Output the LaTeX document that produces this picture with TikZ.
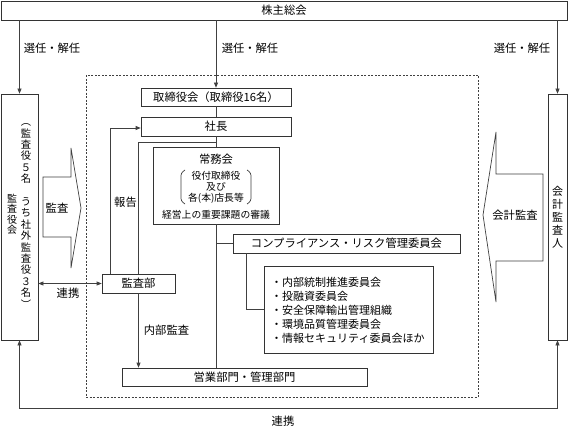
\documentclass[tikz,border=0pt]{standalone}
\usepackage{fontspec}
\setmainfont{Noto Sans CJK JP}
\usetikzlibrary{arrows.meta}
\begin{document}
\begin{tikzpicture}[x=1pt,y=-1pt,
  box/.style={draw=black!80, line width=0.7pt, inner sep=0pt, font=\fontsize{11.3}{13}\selectfont},
  conn/.style={draw=black!75, line width=0.7pt},
  arr/.style={conn, -{Triangle[length=5pt,width=4pt]}},
  dblarr/.style={conn, {Triangle[length=5pt,width=4pt]}-{Triangle[length=5pt,width=4pt]}},
  lbl/.style={inner sep=0pt, font=\fontsize{11.3}{13}\selectfont},
  small/.style={inner sep=0pt, font=\fontsize{9.8}{11}\selectfont},
  vtext/.style={inner sep=0pt, align=center}]
\useasboundingbox (0,0) rectangle (568,428);
\fill[white] (0,0) rectangle (568,428);

% frame
\node[draw=black!75, line width=0.6pt, dash pattern=on 2pt off 1.5pt, minimum width=392pt, minimum height=322pt, inner sep=0pt] (frame) at (282,236) {};

% boxes
\node[box, minimum width=566pt, minimum height=19pt] (kabu) at (284,10.5) {株主総会};
\node[box, minimum width=37pt, minimum height=246pt] (kansayaku) at (19.5,217) {};
\node[box, minimum width=19pt, minimum height=246pt] (kaikei) at (557.5,217) {};
\node[box, minimum width=150pt, minimum height=18pt] (tori) at (216,97) {取締役会（取締役16名）};
\node[box, minimum width=150pt, minimum height=19pt] (shacho) at (216,126.5) {社長};
\node[box, minimum width=126pt, minimum height=77pt] (joumu) at (216,185.5) {};
\node[box, minimum width=227pt, minimum height=19pt] (comp) at (346.5,243.5) {コンプライアンス・リスク管理委員会};
\node[box, minimum width=169pt, minimum height=87pt] (list) at (348.5,309.5) {};
\node[box, minimum width=73pt, minimum height=19pt] (kansabu) at (138.5,283.5) {監査部};
\node[box, minimum width=245pt, minimum height=18pt] (eigyo) at (244.5,377) {営業部門・管理部門};

% texts inside
\node[vtext, font=\fontsize{10}{10.5}\selectfont] (t-kansayakukai) at (12,214) {監\\査\\役\\会};
\node[vtext, font=\fontsize{10.3}{11.4}\selectfont] (t-kansayaku) at (26,216) {︵\\監\\査\\役\\５\\名\\　\\う\\ち\\社\\外\\監\\査\\役\\３\\名\\︶};
\node[vtext, font=\fontsize{11}{13}\selectfont] (t-kaikei) at (557.5,217) {会\\計\\監\\査\\人};
\node[lbl] (t-joumu) at (216,159) {常務会};
\node[small, align=center, font=\fontsize{9.8}{11}\selectfont] (t-joumu2) at (216,187) {役付取締役\\及び\\各(本)店長等};
\node[small] (t-joumu3) at (216,215) {経営上の重要課題の審議};
\draw[conn, rounded corners=2.5pt] (185,170) -- (181,173) -- (181,201) -- (185,204);
\draw[conn, rounded corners=2.5pt] (247,170) -- (251,173) -- (251,201) -- (247,204);
\node[anchor=west, inner sep=0pt, align=left, font=\fontsize{11}{14}\selectfont] (t-list) at (271,310) {・内部統制推進委員会\\・投融資委員会\\・安全保障輸出管理組織\\・環境品質管理委員会\\・情報セキュリティ委員会ほか};

% big arrows
\draw[conn] (43,177) -- (71,177) -- (71,148) -- (81,208) -- (71,268) -- (71,237) -- (43,237) -- cycle;
\node[lbl] (t-kansa) at (57,208) {監査};
\draw[conn] (543,174) -- (496,174) -- (496,132) -- (483,215) -- (496,302) -- (496,261) -- (543,261) -- cycle;
\node[lbl] (t-kaikeikansa) at (515,215) {会計監査};

% connectors
\draw[arr] (kabu.south -| kansayaku.north) -- (kansayaku.north);
\draw[arr] (kabu.south -| tori.north) -- (tori.north);
\draw[arr] (kabu.south -| kaikei.north) -- (kaikei.north);
\node[lbl] (l1) at (52,48) {選任・解任};
\node[lbl] (l2) at (250,48) {選任・解任};
\node[lbl] (l3) at (522,48) {選任・解任};

\draw[conn] (tori) -- (shacho);
\draw[conn] (shacho) -- (joumu);
\draw[conn] (shacho.south) ++(0,5.5) -| (kansabu.north);
\draw[arr] ([xshift=-28.5pt]kansabu.north) |- ([yshift=-1.5pt]shacho.west);
\node[lbl] (l-houkoku) at (125.5,202) {報告};
\draw[conn] (joumu.south) -- (joumu.south |- eigyo.north);
\draw[conn] (joumu.south |- comp.west) -- (comp.west);
\draw[conn] ([xshift=-100.5pt]comp.south) |- (list.west);
\draw[arr] (kansabu.south) -- (kansabu.south |- eigyo.north);
\node[lbl] (l-naibu) at (166.5,330) {内部監査};
\draw[dblarr] (kansayaku.east |- kansabu.west) -- (kansabu.west);
\node[lbl] (l-renkei1) at (68,293) {連携};
\draw[dblarr] (kansayaku.south) -- ++(0,68) -| (kaikei.south);
\node[lbl] (l-renkei2) at (283,421) {連携};
\end{tikzpicture}
\end{document}
